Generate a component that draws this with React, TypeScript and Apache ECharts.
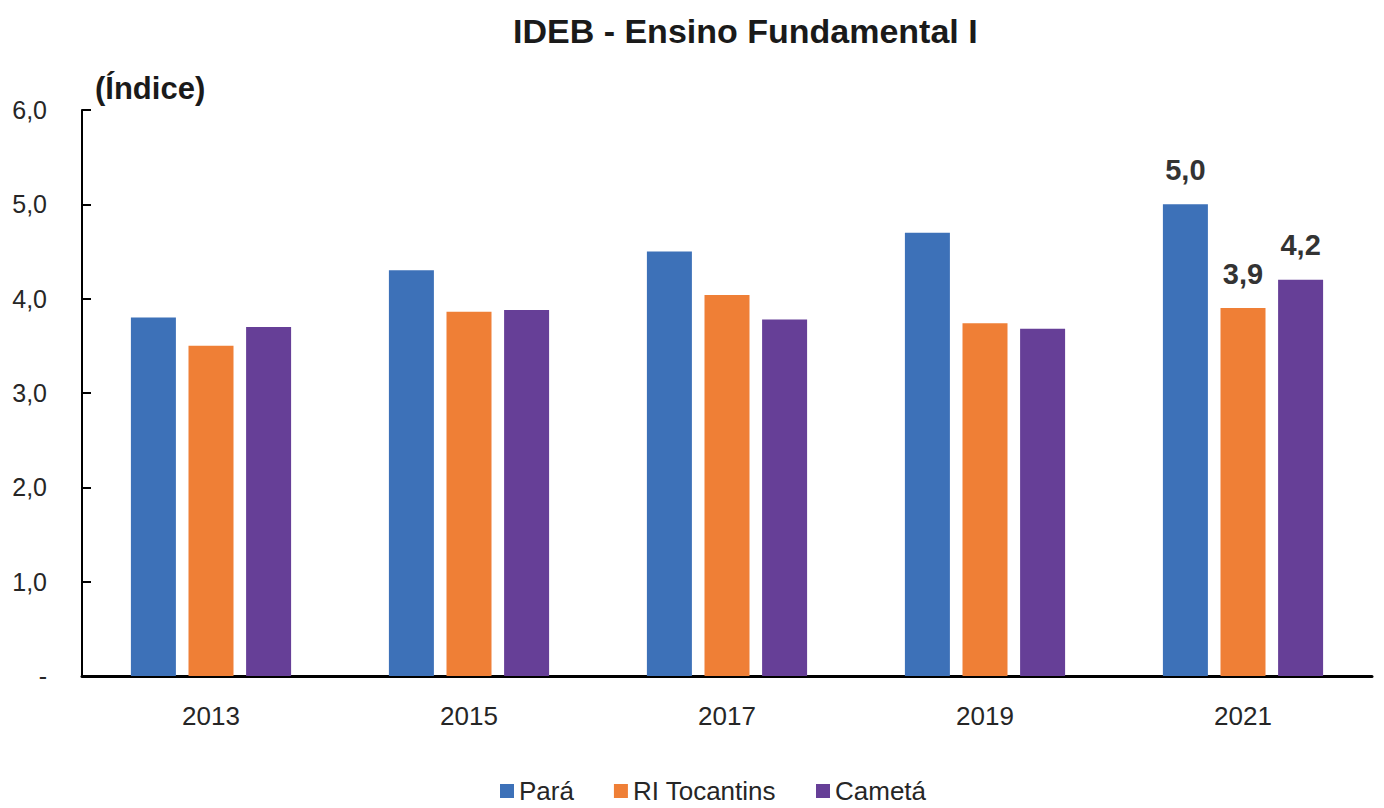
import React, { useEffect, useRef } from "react";
import * as echarts from "echarts";

const categories = ["2013", "2015", "2017", "2019", "2021"];
const seriesNames = ["Pará", "RI Tocantins", "Cametá"];
const paraValues = [3.8, 4.3, 4.5, 4.7, 5.0];
const riTocantinsValues = [3.5, 3.86, 4.04, 3.74, 3.9];
const cametaValues = [3.7, 3.88, 3.78, 3.68, 4.2];
const labeledIndex = [4];
const colors = ["#3D71B8", "#EF7F36", "#663F97"];
const titleText = "IDEB - Ensino Fundamental I";
const unitText = "(Índice)";

const FONT = "'Liberation Sans', Arial, sans-serif";

const fmt = (v: number) => (v === 0 ? "-" : v.toFixed(1).replace(".", ","));

export default function App() {
  const ref = useRef<HTMLDivElement>(null);
  useEffect(() => {
    if (!ref.current) return;
    const chart = echarts.init(ref.current, null, { renderer: "svg" });
    const allValues = [paraValues, riTocantinsValues, cametaValues];
    chart.setOption({
      animation: false,
      backgroundColor: "#fff",
      title: {
        text: titleText,
        left: 508,
        top: 9,
        textStyle: { fontFamily: FONT, fontWeight: "bold", fontSize: 34, color: "#1a1a1a" },
      },
      graphic: [
        {
          type: "text",
          left: 95,
          top: 73,
          style: { text: unitText, font: `bold 31px ${FONT}`, fill: "#1a1a1a" },
        },
      ],
      legend: {
        data: seriesNames,
        left: 495,
        top: 775,
        padding: [2, 5, 2, 5],
        icon: "rect",
        itemWidth: 14,
        itemHeight: 14,
        itemGap: 40,
        textStyle: { fontFamily: FONT, fontSize: 26, lineHeight: 28, color: "#262626" },
      },
      grid: { left: 82, right: 12, top: 110, bottom: 132, containLabel: false },
      xAxis: {
        type: "category",
        data: categories,
        axisLine: { lineStyle: { color: "#000", width: 3 } },
        axisTick: { inside: true, length: 9, lineStyle: { color: "#000", width: 2 } },
        axisLabel: { fontFamily: FONT, fontSize: 26, color: "#262626", margin: 27 },
      },
      yAxis: {
        type: "value",
        min: 0,
        max: 6,
        interval: 1,
        splitLine: { show: false },
        axisLine: { show: true, lineStyle: { color: "#000", width: 2 } },
        axisTick: { show: true, inside: true, length: 9, lineStyle: { color: "#000", width: 2 } },
        axisLabel: { fontFamily: FONT, fontSize: 25, color: "#262626", margin: 35, formatter: fmt },
      },
      series: seriesNames.map((name, si) => ({
        name,
        type: "bar",
        barWidth: 45,
        barGap: "28%",
        itemStyle: { color: colors[si] },
        data: allValues[si].map((v, i) =>
          labeledIndex.includes(i)
            ? {
                value: v,
                label: {
                  show: true,
                  position: "top",
                  distance: 20,
                  formatter: (p: any) => fmt(p.value),
                  fontFamily: FONT,
                  fontWeight: "bold",
                  fontSize: 29,
                  color: "#333",
                },
              }
            : v
        ),
      })),
    });
    return () => chart.dispose();
  }, []);
  return (
    <div
      ref={ref}
      style={{ position: "fixed", left: 0, top: 0, width: 1384, height: 808 }}
    />
  );
}
